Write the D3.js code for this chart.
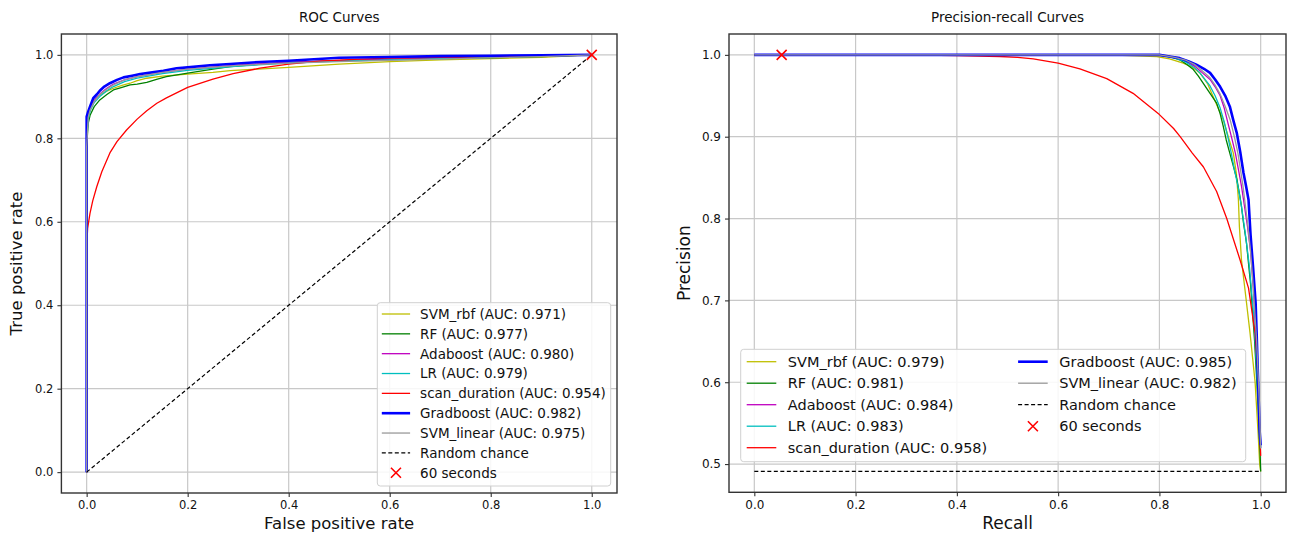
<!DOCTYPE html>
<html>
<head>
<meta charset="utf-8">
<script src="https://cdn.jsdelivr.net/npm/d3@7"></script>
<style>
  body { margin: 0; background: #fff; }
  svg { display: block; font-family: "DejaVu Sans", sans-serif; }
</style>
</head>
<body>
<svg id="fig" width="1292" height="534"></svg>
<script>
// model names + AUC labels, in plotting order
var models = ['SVM_rbf', 'RF', 'Adaboost', 'LR', 'scan_duration', 'Gradboost', 'SVM_linear'];
var colors = ['#bfbf00', '#008000', '#bf00bf', '#00bfbf', '#ff0000', '#0000ff', '#999999'];
var rocAuc = ['0.971', '0.977', '0.980', '0.979', '0.954', '0.982', '0.975'];
var prAuc  = ['0.979', '0.981', '0.984', '0.983', '0.958', '0.985', '0.982'];

var ticks01 = [0, 0.2, 0.4, 0.6, 0.8, 1.0];
var prTicksY = [0.5, 0.6, 0.7, 0.8, 0.9, 1.0];

// ROC curves, [fpr, tpr]
var rocSvmRbf = [[0,0],[0,0.80],[0.003,0.85],[0.007,0.872],[0.015,0.89],[0.026,0.904],[0.04,0.913],[0.053,0.92],[0.07,0.927],[0.086,0.932],[0.1,0.938],[0.119,0.944],[0.15,0.949],[0.2,0.954],[0.25,0.958],[0.284,0.962],[0.34,0.966],[0.4,0.970],[0.5,0.978],[0.6,0.984],[0.7,0.988],[0.8,0.991],[0.9,0.994],[0.95,0.997],[1,1]];
var rocRf = [[0,0],[0,0.78],[0.003,0.835],[0.007,0.856],[0.015,0.876],[0.026,0.892],[0.04,0.905],[0.053,0.916],[0.07,0.922],[0.086,0.928],[0.1,0.93],[0.119,0.934],[0.14,0.942],[0.158,0.948],[0.2,0.956],[0.25,0.966],[0.284,0.972],[0.34,0.977],[0.4,0.982],[0.5,0.986],[0.6,0.989],[0.7,0.991],[0.8,0.993],[0.9,0.996],[1,1]];
var rocAda = [[0,0],[0,0.80],[0.003,0.85],[0.007,0.872],[0.015,0.89],[0.026,0.906],[0.04,0.92],[0.053,0.93],[0.075,0.94],[0.1,0.948],[0.15,0.958],[0.2,0.966],[0.3,0.976],[0.4,0.982],[0.5,0.987],[0.6,0.99],[0.7,0.992],[0.8,0.995],[0.9,0.997],[1,1]];
var rocLr = [[0,0],[0,0.79],[0.003,0.845],[0.007,0.866],[0.015,0.886],[0.026,0.9],[0.04,0.914],[0.053,0.924],[0.075,0.936],[0.1,0.944],[0.15,0.955],[0.2,0.963],[0.3,0.973],[0.4,0.98],[0.5,0.985],[0.6,0.988],[0.7,0.991],[0.8,0.994],[0.9,0.997],[1,1]];
var rocScan = [[0,0],[0,0.54],[0.002,0.585],[0.0066,0.62],[0.012,0.65],[0.02,0.684],[0.03,0.72],[0.046,0.765],[0.06,0.792],[0.079,0.82],[0.1,0.846],[0.119,0.866],[0.139,0.884],[0.158,0.897],[0.18,0.91],[0.2,0.922],[0.25,0.942],[0.29,0.955],[0.343,0.968],[0.4,0.978],[0.46,0.985],[0.54,0.99],[0.6,0.992],[0.7,0.994],[0.8,0.996],[0.9,0.998],[1,1]];
var rocGrad = [[0,0],[0,0.852],[0.003,0.864],[0.0066,0.876],[0.013,0.896],[0.02,0.905],[0.026,0.914],[0.035,0.924],[0.046,0.932],[0.06,0.94],[0.073,0.946],[0.09,0.95],[0.106,0.954],[0.13,0.958],[0.152,0.962],[0.178,0.968],[0.2,0.97],[0.244,0.975],[0.284,0.978],[0.343,0.983],[0.4,0.986],[0.5,0.993],[0.6,0.995],[0.7,0.997],[0.8,0.998],[0.9,0.999],[1,1]];
var rocSvmLin = [[0,0],[0,0.78],[0.003,0.85],[0.007,0.868],[0.015,0.888],[0.026,0.905],[0.04,0.918],[0.053,0.928],[0.075,0.94],[0.1,0.948],[0.15,0.958],[0.2,0.966],[0.3,0.975],[0.4,0.98],[0.5,0.984],[0.6,0.987],[0.7,0.99],[0.8,0.993],[0.9,0.996],[1,1]];
var rocChance = [[0,0],[1,1]];
var rocMarker = [1.0, 1.0];

// precision-recall curves, [recall, precision]
var prSvmRbf = [[0,1],[0.5,1],[0.7,1],[0.795,0.998],[0.82,0.995],[0.847,0.99],[0.865,0.985],[0.88,0.978],[0.895,0.965],[0.906,0.949],[0.916,0.935],[0.926,0.921],[0.936,0.9],[0.946,0.88],[0.952,0.855],[0.956,0.823],[0.958,0.79],[0.962,0.75],[0.969,0.713],[0.979,0.66],[0.989,0.6],[0.995,0.537],[0.998,0.5],[1,0.491]];
var prRf = [[0,1],[0.7,1],[0.795,1],[0.82,0.998],[0.84,0.994],[0.855,0.988],[0.867,0.982],[0.877,0.974],[0.887,0.965],[0.9,0.953],[0.913,0.941],[0.92,0.928],[0.926,0.913],[0.932,0.896],[0.939,0.88],[0.946,0.864],[0.953,0.848],[0.959,0.827],[0.962,0.815],[0.966,0.795],[0.972,0.77],[0.98,0.72],[0.988,0.65],[0.995,0.57],[0.999,0.51],[1,0.491]];
var prAda = [[0,1],[0.7,1],[0.8,1],[0.83,0.997],[0.85,0.993],[0.87,0.986],[0.885,0.978],[0.9,0.97],[0.91,0.961],[0.92,0.95],[0.928,0.935],[0.936,0.915],[0.943,0.898],[0.95,0.88],[0.956,0.86],[0.962,0.84],[0.968,0.815],[0.974,0.79],[0.98,0.76],[0.986,0.71],[0.991,0.65],[0.995,0.59],[0.998,0.54],[1,0.52]];
var prLr = [[0,1],[0.7,1],[0.8,1],[0.83,0.996],[0.85,0.992],[0.87,0.984],[0.88,0.978],[0.9,0.962],[0.91,0.95],[0.92,0.935],[0.928,0.918],[0.935,0.9],[0.942,0.88],[0.948,0.86],[0.955,0.84],[0.962,0.815],[0.97,0.78],[0.978,0.74],[0.985,0.69],[0.99,0.64],[0.995,0.58],[0.998,0.54],[1,0.52]];
var prScan = [[0,1],[0.3,1],[0.4,0.999],[0.485,0.998],[0.52,0.997],[0.551,0.995],[0.6,0.99],[0.643,0.983],[0.696,0.971],[0.748,0.953],[0.8,0.927],[0.828,0.91],[0.841,0.9],[0.865,0.88],[0.887,0.863],[0.913,0.833],[0.933,0.8],[0.946,0.775],[0.959,0.75],[0.976,0.715],[0.989,0.66],[0.995,0.603],[0.998,0.54],[1,0.51]];
var prGrad = [[0,1],[0.7,1],[0.8,1],[0.82,0.998],[0.84,0.996],[0.858,0.992],[0.873,0.988],[0.888,0.983],[0.9,0.978],[0.91,0.97],[0.92,0.961],[0.93,0.95],[0.939,0.937],[0.946,0.92],[0.953,0.904],[0.96,0.88],[0.966,0.856],[0.971,0.84],[0.976,0.823],[0.98,0.78],[0.985,0.74],[0.99,0.697],[0.992,0.66],[0.994,0.62],[0.996,0.58],[0.998,0.54],[1,0.523]];
var prSvmLin = [[0,1],[0.7,1],[0.8,1],[0.83,0.997],[0.85,0.994],[0.87,0.988],[0.88,0.983],[0.9,0.972],[0.91,0.963],[0.92,0.952],[0.93,0.937],[0.94,0.92],[0.948,0.9],[0.955,0.88],[0.96,0.86],[0.965,0.84],[0.97,0.815],[0.975,0.79],[0.98,0.76],[0.985,0.72],[0.992,0.65],[0.997,0.58],[1,0.519]];
var prChance = [[0,0.491],[1,0.491]];
var prMarker = [0.054, 1.0];

var svg = d3.select('#fig');

function drawPanel(cfg) {
  var x = d3.scaleLinear().domain(cfg.xDomain).range([cfg.left, cfg.right]);
  var y = d3.scaleLinear().domain(cfg.yDomain).range([cfg.bottom, cfg.top]);
  var g = svg.append('g');

  // grid
  g.append('g').selectAll('line.vx').data(cfg.xTicks).enter().append('line')
    .attr('x1', d => x(d)).attr('x2', d => x(d))
    .attr('y1', cfg.top).attr('y2', cfg.bottom)
    .attr('stroke', '#c8c8c8').attr('stroke-width', 1.2);
  g.append('g').selectAll('line.hy').data(cfg.yTicks).enter().append('line')
    .attr('y1', d => y(d)).attr('y2', d => y(d))
    .attr('x1', cfg.left).attr('x2', cfg.right)
    .attr('stroke', '#c8c8c8').attr('stroke-width', 1.2);

  var clipId = 'clip' + cfg.id;
  svg.append('clipPath').attr('id', clipId).append('rect')
    .attr('x', cfg.left).attr('y', cfg.top)
    .attr('width', cfg.right - cfg.left).attr('height', cfg.bottom - cfg.top);

  var line = d3.line().x(d => x(d[0])).y(d => y(d[1]));
  var plot = g.append('g').attr('clip-path', 'url(#' + clipId + ')');

  cfg.curves.forEach(function(c, i) {
    plot.append('path')
      .attr('d', line(c))
      .attr('fill', 'none')
      .attr('stroke', colors[i])
      .attr('stroke-width', models[i] === 'Gradboost' ? 2.6 : 1.3)
      .attr('stroke-linejoin', 'round');
  });

  plot.append('path')
    .attr('d', line(cfg.chance))
    .attr('fill', 'none').attr('stroke', '#000')
    .attr('stroke-width', 1.2).attr('stroke-dasharray', '4,2.5');

  // 60 seconds marker
  var mx = x(cfg.marker[0]), my = y(cfg.marker[1]), s = 5;
  plot.append('path')
    .attr('d', 'M' + (mx - s) + ',' + (my - s) + 'L' + (mx + s) + ',' + (my + s) +
               'M' + (mx - s) + ',' + (my + s) + 'L' + (mx + s) + ',' + (my - s))
    .attr('stroke', '#ff0000').attr('stroke-width', 1.6);

  // axes
  var fmt = d3.format('.1f');
  var xAxis = g.append('g').attr('transform', 'translate(0,' + cfg.bottom + ')')
    .call(d3.axisBottom(x).tickValues(cfg.xTicks).tickFormat(fmt).tickSizeOuter(0).tickSize(4).tickPadding(4));
  var yAxis = g.append('g').attr('transform', 'translate(' + cfg.left + ',0)')
    .call(d3.axisLeft(y).tickValues(cfg.yTicks).tickFormat(fmt).tickSizeOuter(0).tickSize(4).tickPadding(4));
  [xAxis, yAxis].forEach(function(a) {
    a.select('.domain').remove();
    a.selectAll('line').attr('stroke', '#333').attr('stroke-width', 1.1);
    a.selectAll('text').attr('fill', '#111').style('font-size', cfg.tickFont + 'px')
      .style('font-family', '"DejaVu Sans", sans-serif');
  });

  // frame
  g.append('rect')
    .attr('x', cfg.left).attr('y', cfg.top)
    .attr('width', cfg.right - cfg.left).attr('height', cfg.bottom - cfg.top)
    .attr('fill', 'none').attr('stroke', '#333').attr('stroke-width', 1.4);

  // titles
  var cx = (cfg.left + cfg.right) / 2;
  g.append('text').attr('x', cx).attr('y', 22).attr('text-anchor', 'middle')
    .style('font-size', cfg.titleFont + 'px').attr('fill', '#111').text(cfg.title);
  g.append('text').attr('x', cx).attr('y', 529).attr('text-anchor', 'middle')
    .style('font-size', cfg.labelFont + 'px').attr('fill', '#111').text(cfg.xLabel);
  g.append('text')
    .attr('transform', 'translate(' + cfg.yLabelX + ',' + ((cfg.top + cfg.bottom) / 2) + ') rotate(-90)')
    .attr('text-anchor', 'middle')
    .style('font-size', cfg.labelFont + 'px').attr('fill', '#111').text(cfg.yLabel);

  // legend
  var L = cfg.legend;
  var lg = g.append('g');
  lg.append('rect')
    .attr('x', L.x).attr('y', L.y).attr('width', L.w).attr('height', L.h)
    .attr('rx', 3).attr('fill', '#fff').attr('fill-opacity', 0.85)
    .attr('stroke', '#d0d0d0').attr('stroke-width', 1);

  var entries = models.map(function(m, i) {
    return { label: m + ' (AUC: ' + cfg.auc[i] + ')', color: colors[i], width: m === 'Gradboost' ? 2.6 : 1.3, kind: 'line' };
  });
  entries.push({ label: 'Random chance', color: '#000', width: 1.2, kind: 'dash' });
  entries.push({ label: '60 seconds', color: '#ff0000', width: 1.6, kind: 'marker' });

  entries.forEach(function(e, i) {
    var col = Math.floor(i / L.rows), row = i % L.rows;
    var hx = L.x + L.pad + col * L.colW, ry = L.y + L.first + row * L.step;
    if (e.kind === 'marker') {
      var c = hx + L.handle / 2, r = 5;
      lg.append('path')
        .attr('d', 'M' + (c - r) + ',' + (ry - r) + 'L' + (c + r) + ',' + (ry + r) +
                   'M' + (c - r) + ',' + (ry + r) + 'L' + (c + r) + ',' + (ry - r))
        .attr('stroke', e.color).attr('stroke-width', e.width);
    } else {
      lg.append('line')
        .attr('x1', hx).attr('x2', hx + L.handle).attr('y1', ry).attr('y2', ry)
        .attr('stroke', e.color).attr('stroke-width', e.width)
        .attr('stroke-dasharray', e.kind === 'dash' ? '4,2.5' : null);
    }
    lg.append('text')
      .attr('x', hx + L.handle + L.gap).attr('y', ry).attr('dy', '0.36em')
      .style('font-size', L.font + 'px').attr('fill', '#111').text(e.label);
  });
}

drawPanel({
  id: 'roc', title: 'ROC Curves', xLabel: 'False positive rate', yLabel: 'True positive rate',
  left: 61.4, right: 617, top: 34, bottom: 493,
  xDomain: [-0.05, 1.05], yDomain: [-0.05, 1.05],
  xTicks: ticks01, yTicks: ticks01,
  curves: [rocSvmRbf, rocRf, rocAda, rocLr, rocScan, rocGrad, rocSvmLin],
  chance: rocChance, marker: rocMarker, auc: rocAuc,
  tickFont: 11.5, titleFont: 13.5, labelFont: 16.5, yLabelX: 22,
  legend: { x: 377.3, y: 302.7, w: 233.4, h: 183.3, rows: 9, colW: 0, pad: 4.5,
            first: 11.3, step: 19.84, handle: 28.3, gap: 10, font: 13.5 }
});

drawPanel({
  id: 'pr', title: 'Precision-recall Curves', xLabel: 'Recall', yLabel: 'Precision',
  left: 729, right: 1286, top: 34, bottom: 492.3,
  xDomain: [-0.05, 1.05], yDomain: [0.4655, 1.0255],
  xTicks: ticks01, yTicks: prTicksY,
  curves: [prSvmRbf, prRf, prAda, prLr, prScan, prGrad, prSvmLin],
  chance: prChance, marker: prMarker, auc: prAuc,
  tickFont: 12, titleFont: 13.5, labelFont: 17, yLabelX: 690,
  legend: { x: 740.7, y: 349.3, w: 505, h: 112.4, rows: 5, colW: 271.4, pad: 6,
            first: 12.4, step: 21.5, handle: 29.6, gap: 11.5, font: 14.5 }
});
</script>
</body>
</html>
